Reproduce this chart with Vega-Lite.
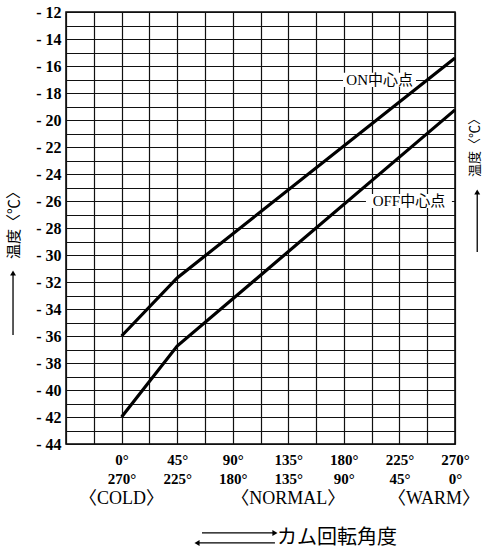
{
  "$schema": "https://vega.github.io/schema/vega-lite/v6.json",
  "width": 389,
  "height": 432,
  "autosize": {"type": "none"},
  "padding": {"left": 66, "top": 12, "right": 29, "bottom": 110},
  "background": "white",
  "config": {"view": {"stroke": "black", "strokeWidth": 1.5}},
  "datasets": {
    "curves": [
      {"angle": 0, "temp": -36, "series": "ON"},
      {"angle": 45, "temp": -31.7, "series": "ON"},
      {"angle": 270, "temp": -15.4, "series": "ON"},
      {"angle": 0, "temp": -42, "series": "OFF"},
      {"angle": 45, "temp": -36.75, "series": "OFF"},
      {"angle": 270, "temp": -19.25, "series": "OFF"}
    ],
    "masks": [
      {"angle": 179.3, "a2": 238.4, "temp": -16.5, "t2": -17.55},
      {"angle": 197.9, "a2": 267.5, "temp": -25.48, "t2": -26.52}
    ],
    "seriesLabels": [
      {"angle": 209, "temp": -17.05, "text": "ON中心点"},
      {"angle": 232.7, "temp": -26.0, "text": "OFF中心点"}
    ],
    "modes": [
      {"angle": 0, "temp": -48.1, "text": "〈COLD〉"},
      {"angle": 135, "temp": -48.1, "text": "〈NORMAL〉"}
    ],
    "warm": [
      {"angle": 270, "temp": -48.1, "text": "〈WARM〉"}
    ],
    "caption": [
      {"angle": 125.8, "temp": -50.96, "text": "カム回転角度"}
    ],
    "hArrows": [
      {"angle": 65.1, "a2": 124.2, "temp": -50.59},
      {"angle": 61.1, "a2": 124.2, "temp": -51.33}
    ],
    "vArrows": [
      {"angle": -87.9, "temp": -35.93, "t2": -31.33},
      {"angle": 288.0, "temp": -29.78, "t2": -25.33}
    ],
    "heads": [
      {"angle": 124.2, "temp": -50.59, "shape": "triangle-right"},
      {"angle": 61.1, "temp": -51.33, "shape": "triangle-left"},
      {"angle": -87.9, "temp": -31.33, "shape": "triangle-up"},
      {"angle": 288.0, "temp": -25.33, "shape": "triangle-up"}
    ],
    "rightTitle": [
      {"angle": 286.6, "temp": -21.81, "text": "温度〈℃〉"}
    ]
  },
  "encoding": {
    "x": {
      "field": "angle", "type": "quantitative",
      "scale": {"domain": [-45, 270], "nice": false, "zero": false},
      "axis": {
        "values": [-45, -22.5, 0, 22.5, 45, 67.5, 90, 112.5, 135, 157.5, 180, 202.5, 225, 247.5, 270],
        "grid": true, "gridColor": "#111", "gridWidth": 1.2, "gridOpacity": 1,
        "ticks": false, "domain": false,
        "labelExpr": "datum.value >= 0 && datum.value % 45 == 0 ? [datum.value + '°', (270 - datum.value) + '°'] : ''",
        "labelFont": "Liberation Serif", "labelFontWeight": "bold", "labelFontSize": 15,
        "labelColor": "black", "labelPadding": 8, "labelLineHeight": 19,
        "labelOverlap": false, "labelFlush": false, "labelBound": false,
        "title": null
      }
    },
    "y": {
      "field": "temp", "type": "quantitative",
      "scale": {"domain": [-44, -12], "nice": false, "zero": false},
      "axis": {
        "values": [-44,-43,-42,-41,-40,-39,-38,-37,-36,-35,-34,-33,-32,-31,-30,-29,-28,-27,-26,-25,-24,-23,-22,-21,-20,-19,-18,-17,-16,-15,-14,-13,-12],
        "grid": true, "gridColor": "#111", "gridWidth": 1.2, "gridOpacity": 1,
        "ticks": false, "domain": false,
        "labelExpr": "datum.value % 2 == 0 ? '- ' + abs(datum.value) : ''",
        "labelFont": "Liberation Serif", "labelFontWeight": "bold", "labelFontSize": 16,
        "labelColor": "black", "labelPadding": 5, "labelOverlap": false, "labelFlush": false,
        "title": "温度〈℃〉",
        "titleFont": "Noto Sans CJK JP", "titleFontWeight": "normal", "titleFontSize": 15,
        "titleColor": "black", "titleAngle": -90, "titleX": -53, "titleY": 209,
        "titleAlign": "center", "titleBaseline": "middle"
      }
    }
  },
  "layer": [
    {
      "data": {"name": "curves"},
      "mark": {"type": "line", "color": "black", "strokeWidth": 3.2, "clip": false},
      "encoding": {
        "detail": {"field": "series", "type": "nominal"}
      }
    },
    {
      "data": {"name": "masks"},
      "mark": {"type": "rect", "fill": "white", "stroke": null},
      "encoding": {
        "x2": {"field": "a2"},
        "y2": {"field": "t2"}
      }
    },
    {
      "data": {"name": "seriesLabels"},
      "mark": {"type": "text", "font": "Liberation Serif, Noto Sans CJK JP", "fontSize": 15, "color": "black", "align": "center", "baseline": "middle"},
      "encoding": {
        "text": {"field": "text"}
      }
    },
    {
      "data": {"name": "modes"},
      "mark": {"type": "text", "font": "Liberation Serif, Noto Sans CJK JP", "fontSize": 18, "color": "black", "align": "center", "baseline": "middle", "clip": false},
      "encoding": {
        "text": {"field": "text"}
      }
    },
    {
      "data": {"name": "warm"},
      "mark": {"type": "text", "font": "Liberation Serif, Noto Sans CJK JP", "fontSize": 18, "color": "black", "align": "right", "baseline": "middle", "dx": 25, "clip": false},
      "encoding": {
        "text": {"field": "text"}
      }
    },
    {
      "data": {"name": "caption"},
      "mark": {"type": "text", "font": "Noto Sans CJK JP", "fontSize": 20, "color": "black", "align": "left", "baseline": "middle", "clip": false},
      "encoding": {
        "text": {"field": "text"}
      }
    },
    {
      "data": {"name": "rightTitle"},
      "mark": {"type": "text", "font": "Noto Sans CJK JP", "fontSize": 13, "color": "black", "align": "center", "baseline": "middle", "angle": 270, "clip": false},
      "encoding": {
        "text": {"field": "text"}
      }
    },
    {
      "data": {"name": "hArrows"},
      "mark": {"type": "rule", "color": "black", "strokeWidth": 1.3, "clip": false},
      "encoding": {
        "x2": {"field": "a2"}
      }
    },
    {
      "data": {"name": "vArrows"},
      "mark": {"type": "rule", "color": "black", "strokeWidth": 1.3, "clip": false},
      "encoding": {
        "y2": {"field": "t2"}
      }
    },
    {
      "data": {"name": "heads"},
      "mark": {"type": "point", "filled": true, "color": "black", "size": 35, "opacity": 1, "clip": false},
      "encoding": {
        "shape": {"field": "shape", "type": "nominal", "scale": null}
      }
    }
  ]
}
